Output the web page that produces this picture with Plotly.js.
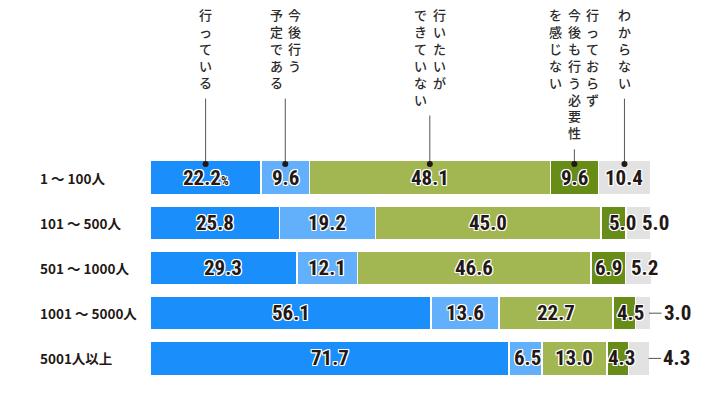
<!DOCTYPE html>
<html><head><meta charset="utf-8">
<script src="https://cdn.plot.ly/plotly-3.0.1.min.js"></script>
<style>body{margin:0;background:#fff}#c{width:710px;height:393px}</style>
</head><body><div id="c"></div>
<script>
const categories = ['1 ～ 100人','101 ～ 500人','501 ～ 1000人','1001 ～ 5000人','5001人以上'];
const seriesNames = ['行っている','今後行う予定である','行いたいができていない','行っておらず今後も行う必要性を感じない','わからない'];
const seriesColumns = [['行っている'],['今後行う','予定である'],['行いたいが','できていない'],['行っておらず','今後も行う必要性','を感じない'],['わからない']];
const doing     = [22.2, 25.8, 29.3, 56.1, 71.7];
const planning  = [9.6, 19.2, 12.1, 13.6, 6.5];
const wantCant  = [48.1, 45.0, 46.6, 22.7, 13.0];
const noNeed    = [9.6, 5.0, 6.9, 4.5, 4.3];
const unknown   = [10.4, 5.0, 5.2, 3.0, 4.3];
const series = [doing, planning, wantCant, noNeed, unknown];
const colors = ['#1a8ffb','#62affb','#a2b751','#678c17','#e2e2e2'];

// label styling: pixel shifts for crowded labels [row-series]
const labelShift = {'1-3':9,'1-4':17,'2-4':6,'3-3':6,'4-3':4,'4-1':2};
const outsideLeader = {'3-4':true,'4-4':true};

const W=710,H=393,L=150,R=59,T=155,B=12;
const ph = H-T-B, pw = W-L-R;
const py = y => 1 - (y - T)/ph;

const traces = series.map((vals,i)=>({
  type:'bar', orientation:'h', y:categories, x:vals, name:seriesNames[i],
  marker:{color:colors[i], line:{color:'#ffffff', width:1.5}},
  width:0.75, hoverinfo:'none', showlegend:false
}));

const txtColor = '#231815';
const outline = '1px 0 0 #fff, -1px 0 0 #fff, 0 1px 0 #fff, 0 -1px 0 #fff, 1px 1px 0 #fff, -1px -1px 0 #fff, 1px -1px 0 #fff, -1px 1px 0 #fff';
const numFont = {family:'"Roboto Condensed", "Liberation Sans Narrow", "DejaVu Sans Condensed", Roboto, sans-serif', size:21, color:txtColor, weight:700, shadow:outline};

const annotations = [];
const shapes = [];
categories.forEach((cat,r)=>{
  let cum = 0;
  series.forEach((vals,s)=>{
    const v = vals[r];
    const key = r+'-'+s;
    let txt = v.toFixed(1);
    if (r===0 && s===0) txt = txt + '<span style="font-size:12px">%</span>';
    if (outsideLeader[key]) {
      const tot = cum + v;
      shapes.push({type:'line', xref:'paper', yref:'y', x0:(tot-0.3)/100, x1:(tot+2.2)/100, y0:cat, y1:cat, line:{color:'#555', width:1}});
      annotations.push({xref:'paper', yref:'y', x:(tot+2.2)/100, y:cat, text:txt, showarrow:false, xanchor:'left', font:numFont});
    } else {
      annotations.push({xref:'x', yref:'y', x:cum + v/2, y:cat, text:txt, showarrow:false, xshift:labelShift[key]||0, font:numFont});
    }
    cum += v;
  });
  annotations.push({xref:'paper', yref:'y', x:(38-L)/pw, y:cat, text:cat, showarrow:false, xanchor:'left',
    font:{family:'"Noto Sans CJK JP", sans-serif', size:13.5, color:txtColor, weight:600}});
});

// top vertical labels (one character per line), leader lines and dots at row 1
const colPitch = 18.5, charSize = 13, linePitch = 13*1.3;
let cum0 = 0;
series.forEach((vals,s)=>{
  const xc = cum0 + vals[0]/2;
  cum0 += vals[0];
  const cols = seriesColumns[s];
  const n = cols.length;
  let maxLen = 0;
  cols.forEach((c,j)=>{
    const chars = Array.from(c);
    maxLen = Math.max(maxLen, chars.length);
    annotations.push({xref:'x', yref:'paper', x:xc, y:py(4), yanchor:'top',
      xshift:((n-1)/2 - j)*colPitch, text:chars.join('<br>'), showarrow:false, borderpad:0, align:'center',
      font:{family:'"Noto Sans CJK JP", sans-serif', size:charSize, color:'#2b2b2b', weight:500}});
  });
  const top = 8 + (maxLen-1)*linePitch + charSize + 10;
  shapes.push({type:'line', xref:'x', yref:'paper', x0:xc, x1:xc, y0:py(164), y1:py(top), line:{color:'#555', width:1}});
  shapes.push({type:'circle', xref:'x', yref:'paper', xsizemode:'pixel', ysizemode:'pixel', xanchor:xc, yanchor:py(164),
    x0:-3, x1:3, y0:-3, y1:3, fillcolor:'#231815', line:{width:0}});
});

const layout = {
  width:W, height:H, margin:{l:L, r:R, t:T, b:B},
  paper_bgcolor:'#fff', plot_bgcolor:'#fff', barmode:'stack', bargap:0.25,
  xaxis:{range:[0,100], visible:false, fixedrange:true},
  yaxis:{type:'category', categoryarray:categories, range:[4.5,-0.5], visible:false, fixedrange:true},
  annotations, shapes, showlegend:false
};
Plotly.newPlot('c', traces, layout, {displayModeBar:false, staticPlot:true});
</script></body></html>
